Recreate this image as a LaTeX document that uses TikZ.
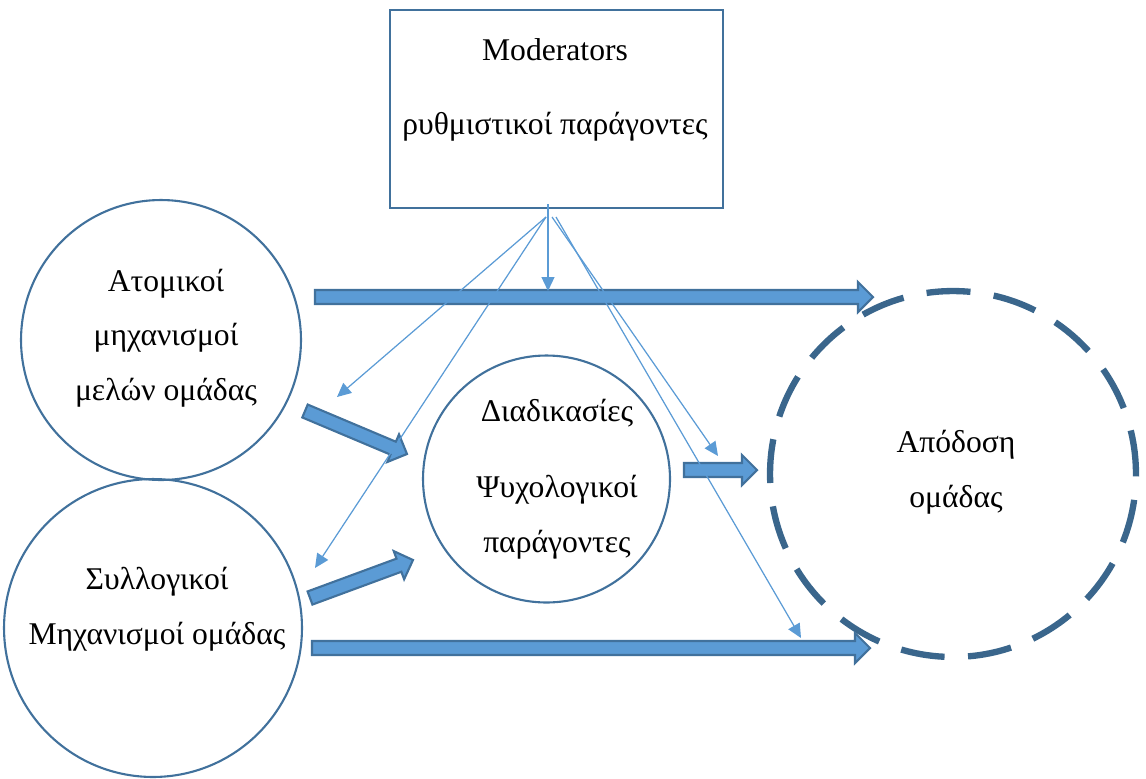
\documentclass[tikz,border=0pt]{standalone}
\usepackage{fontspec}
\setmainfont{Liberation Serif}
\usetikzlibrary{calc,arrows.meta}
\definecolor{rimblue}{HTML}{41719C}
\definecolor{fillblue}{HTML}{5B9BD5}

\newcommand{\blockarrow}[2]{%
  \coordinate (#1-base) at ($(#2)!0.3cm!(#1)$);
  \draw[blockarrow] ($(#1)!0.14cm!90:(#2)$) -- ($(#1-base)!0.14cm!90:(#2)$)
    -- ($(#1-base)!0.3cm!90:(#2)$) -- (#2) -- ($(#1-base)!0.3cm!-90:(#2)$)
    -- ($(#1-base)!0.14cm!-90:(#2)$) -- ($(#1)!0.14cm!-90:(#2)$) -- cycle;}

\begin{document}
\begin{tikzpicture}[x=0.02cm, y=-0.02cm,
    every node/.style={font=\fontsize{18}{31}\selectfont},
    circ/.style={draw=rimblue, line width=1.2pt, circle, inner sep=0pt},
    goal/.style={draw=rimblue!90!black, line width=3.6pt, circle, inner sep=0pt,
      dash pattern=on 0.88cm off 0.47cm},
    modbox/.style={draw=rimblue, line width=1.4pt, minimum width=6.66cm, minimum height=3.96cm},
    txt/.style={align=center, inner sep=0pt},
    thin/.style={draw=fillblue, line width=0.7pt, -{Triangle[length=0.28cm,width=0.26cm]}},
    blockarrow/.style={draw=rimblue, fill=fillblue, line width=1.2pt, line join=miter}]
    \useasboundingbox (0,0) rectangle (1146,778);

    % boxes and circles
    \node[modbox] (mod) at (556.5,109) {};
    \node[circ, minimum size=5.6cm] (atom) at (161,340) {};
    \node[circ, minimum size=5.96cm] (coll) at (153,628) {};
    \node[circ, minimum size=4.94cm] (proc) at (546.5,479) {};
    \node[goal, minimum size=7.32cm] (perf) at (953,474) {};

    \node[txt] (modtext) at (555,90) {Moderators\\[11pt]ρυθμιστικοί παράγοντες};
    \node[txt] (atomtext) at (166,338) {Ατομικοί\\μηχανισμοί\\μελών ομάδας};
    \node[txt] (colltext) at (157,609) {Συλλογικοί\\Μηχανισμοί ομάδας};
    \node[txt] (proctext) at (557,479) {Διαδικασίες\\[12.6pt]Ψυχολογικοί\\παράγοντες};
    \node[txt] (perftext) at (956,472) {Απόδοση\\ομάδας};

    % block arrows
    \coordinate (a1) at (315,297);  \coordinate (b1) at (873,297);
    \coordinate (a2) at (312,648);  \coordinate (b2) at (870,648);
    \coordinate (a3) at (305,411);  \coordinate (b3) at (407,454);
    \coordinate (a4) at (310,598);  \coordinate (b4) at (413,560);
    \coordinate (a5) at (684,470);  \coordinate (b5) at (757,470);
    \blockarrow{a1}{b1}
    \blockarrow{a2}{b2}
    \blockarrow{a3}{b3}
    \blockarrow{a4}{b4}
    \blockarrow{a5}{b5}

    % moderator links
    \coordinate (src) at (548,204);
    \coordinate (srcl) at (546,217);
    \coordinate (srcm) at (552,217);
    \coordinate (srcr) at (556,217);
    \coordinate (t1) at (548,291);
    \coordinate (t2) at (337,397);
    \coordinate (t3) at (315,568);
    \coordinate (t4) at (718,456);
    \coordinate (t5) at (801,638);
    \draw[thin] (src) -- (t1);
    \draw[thin] (srcl) -- (t2);
    \draw[thin] (srcl) -- (t3);
    \draw[thin] (srcm) -- (t4);
    \draw[thin] (srcr) -- (t5);
\end{tikzpicture}
\end{document}
